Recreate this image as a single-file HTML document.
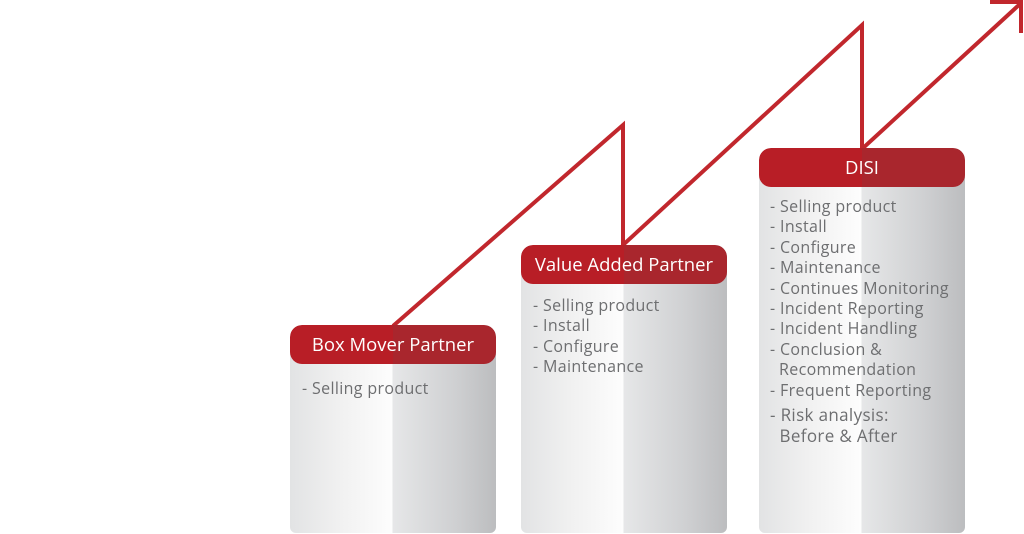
<!DOCTYPE html>
<html><head><meta charset="utf-8"><style>
body{margin:0;width:1024px;height:534px;background:#fff;position:relative;overflow:hidden;font-family:"Open Sans","Liberation Sans",sans-serif}
.col{position:absolute;width:206px;border-radius:12px 12px 6px 6px;overflow:hidden;
background:linear-gradient(90deg,#e2e3e4 0%,#f1f1f1 25%,#fdfdfd 49.5%,#e6e7e8 50%,#cfd0d2 80%,#bcbdbf 100%)}
.hd{position:absolute;left:0;top:0;width:206px;height:39px;border-radius:12px;background:linear-gradient(90deg,#b81e26 50%,#a9262d 50%);color:#fff;font-size:18.5px;text-align:center;line-height:39px}
.t{position:absolute;color:#6d6e70;font-size:16px;line-height:20.4px;white-space:pre;letter-spacing:0.35px}
svg{position:absolute;left:0;top:0}
</style></head><body>
<svg width="1024" height="534"><g fill="none" stroke="#c1272d" stroke-width="4" stroke-linejoin="miter">
<polyline points="393,326 623,125 623,245 862,25 862,149 1020,4"/>
<polyline points="990,2 1021,2 1021,33"/></g></svg>
<div class="col" style="left:290px;top:325px;height:208px"><div class="hd">Box Mover Partner</div></div>
<div class="col" style="left:521px;top:245px;height:288px"><div class="hd">Value Added Partner</div></div>
<div class="col" style="left:759px;top:148px;height:385px"><div class="hd">DISI</div></div>
<div class="t" style="left:302px;top:378px">- Selling product</div>
<div class="t" style="left:533px;top:295px">- Selling product
- Install
- Configure
- Maintenance</div>
<div class="t" style="left:770px;top:196px">- Selling product
- Install
- Configure
- Maintenance
- Continues Monitoring
- Incident Reporting
- Incident Handling
- Conclusion &amp;
  Recommendation
- Frequent Reporting</div>
<div class="t" style="left:770px;top:404px;font-size:17px;line-height:21px">- Risk analysis:
  Before &amp; After</div>
</body></html>
